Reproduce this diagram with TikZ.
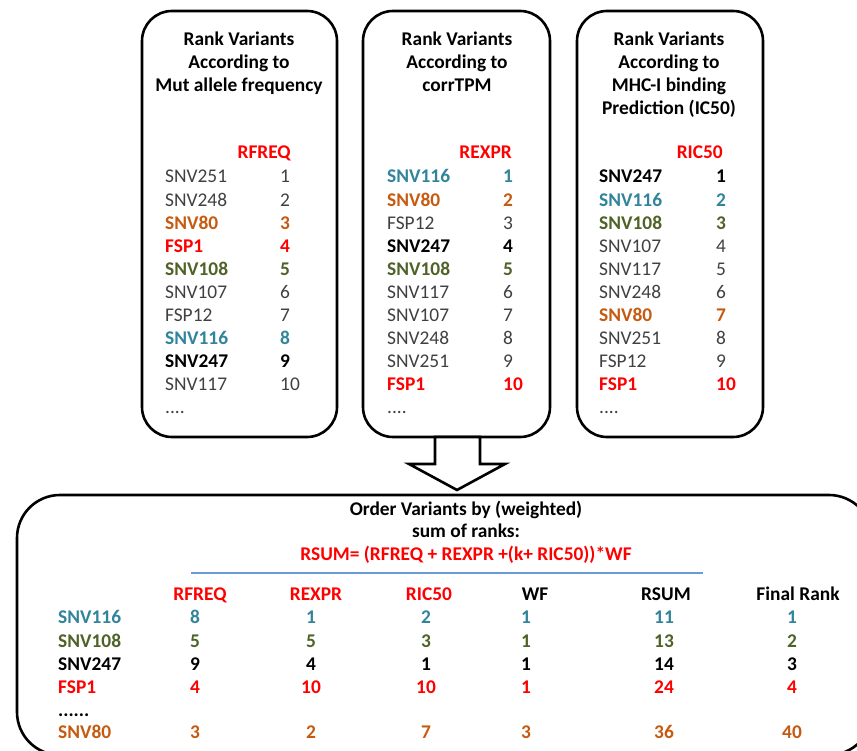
\documentclass[tikz,border=0pt]{standalone}
\usepackage{fontspec}
\setmainfont{Carlito}
\newcommand\myfs{\fontsize{19.4}{23}\selectfont}
\definecolor{cteal}{HTML}{31849B}
\definecolor{cgreen}{HTML}{4F6228}
\definecolor{corange}{HTML}{C55A11}
\definecolor{cred}{HTML}{FF0000}
\definecolor{cgray}{HTML}{404040}
\definecolor{cblue}{HTML}{6A9BD8}
\tikzset{
  panel/.style={draw, line width=2.6pt, rounded corners=30pt},
  bigpanel/.style={draw, line width=2.6pt, rounded corners=43pt},
  blockarrow/.style={draw, fill=white, line width=2.6pt, line join=miter},
  txt/.style={inner sep=0pt, font=\myfs},
  creg/.style={txt, text=cgray},
  cbk/.style={txt, font=\myfs\bfseries, text=black},
  ctl/.style={txt, font=\myfs\bfseries, text=cteal},
  cgr/.style={txt, font=\myfs\bfseries, text=cgreen},
  cor/.style={txt, font=\myfs\bfseries, text=corange},
  crd/.style={txt, font=\myfs\bfseries, text=cred},
  ttl/.style={txt, font=\myfs\bfseries, text=black, anchor=base},
}
\begin{document}
\begin{tikzpicture}[x=1pt,y=-1pt]
\useasboundingbox (0,0) rectangle (857,751);
% panels
\draw[panel] (142,11) rectangle (337,437);
\draw[panel] (363,11) rectangle (550,437);
\draw[panel] (577,11) rectangle (763,437);
\draw[bigpanel] (17,495) rectangle (872,755);
% block arrow
\draw[blockarrow] (435,437) -- (480,437) -- (480,464) -- (505,464) -- (457,490) -- (409,464) -- (435,464) -- cycle;
% titles
\node[ttl] (t1a) at (239,46) {Rank Variants};
\node[ttl] (t1b) at (239,69) {According to};
\node[ttl] (t1c) at (239,92) {Mut allele frequency};
\node[ttl] (t2a) at (457,46) {Rank Variants};
\node[ttl] (t2b) at (457,69) {According to};
\node[ttl] (t2c) at (457,92) {corrTPM};
\node[ttl] (t3a) at (669,46) {Rank Variants};
\node[ttl] (t3b) at (669,69) {According to};
\node[ttl] (t3c) at (669,92) {MHC-I binding};
\node[ttl] (t3d) at (669,115) {Prediction (IC50)};
% headers
\node[crd, anchor=base east] (h1) at (291,159) {RFREQ};
\node[crd, anchor=base east] (h2) at (512,159) {REXPR};
\node[crd, anchor=base east] (h3) at (723,159) {RIC50};
% box 1
\foreach \n/\v/\s [count=\i] in {SNV251/1/creg, SNV248/2/creg, SNV80/3/cor, FSP1/4/crd, SNV108/5/cgr, SNV107/6/creg, FSP12/7/creg, SNV116/8/ctl, SNV247/9/cbk, SNV117/10/creg}{
  \node[\s, anchor=base west] (an\i) at (165,{183+(\i-1)*23.1}) {\n};
  \node[\s, anchor=base west] (av\i) at (280,{183+(\i-1)*23.1}) {\v};
}
\node[creg, anchor=base west] (ad) at (165,413) {....};
% box 2
\foreach \n/\v/\s [count=\i] in {SNV116/1/ctl, SNV80/2/cor, FSP12/3/creg, SNV247/4/cbk, SNV108/5/cgr, SNV117/6/creg, SNV107/7/creg, SNV248/8/creg, SNV251/9/creg, FSP1/10/crd}{
  \node[\s, anchor=base west] (bn\i) at (387,{183+(\i-1)*23.1}) {\n};
  \node[\s, anchor=base west] (bv\i) at (503,{183+(\i-1)*23.1}) {\v};
}
\node[creg, anchor=base west] (bd) at (387,413) {....};
% box 3
\foreach \n/\v/\s [count=\i] in {SNV247/1/cbk, SNV116/2/ctl, SNV108/3/cgr, SNV107/4/creg, SNV117/5/creg, SNV248/6/creg, SNV80/7/cor, SNV251/8/creg, FSP12/9/creg, FSP1/10/crd}{
  \node[\s, anchor=base west] (cn\i) at (599,{183+(\i-1)*23.1}) {\n};
  \node[\s, anchor=base west] (cv\i) at (716,{183+(\i-1)*23.1}) {\v};
}
\node[creg, anchor=base west] (cd) at (599,413) {....};
% bottom title
\node[ttl] (o1) at (466,515) {Order Variants by (weighted)};
\node[ttl] (o2) at (466,537) {sum of ranks:};
\node[ttl, text=cred] (o3) at (466,560) {RSUM= (RFREQ + REXPR +(k+ RIC50))*WF};
\draw[cblue, line width=1.3pt] (191,573) -- (703,573);
% table header
\node[crd, anchor=base] (th1) at (200,600) {RFREQ};
\node[crd, anchor=base] (th2) at (316,600) {REXPR};
\node[crd, anchor=base] (th3) at (429,600) {RIC50};
\node[cbk, anchor=base] (th4) at (535,600) {WF};
\node[cbk, anchor=base] (th5) at (666,600) {RSUM};
\node[cbk, anchor=base] (th6) at (798,600) {Final Rank};
% table rows
\foreach \n/\a/\b/\c/\d/\e/\f/\s/\y [count=\i] in {SNV116/8/1/2/1/11/1/ctl/623, SNV108/5/5/3/1/13/2/cgr/647, SNV247/9/4/1/1/14/3/cbk/670, FSP1/4/10/10/1/24/4/crd/693, SNV80/3/2/7/3/36/40/cor/738}{
  \node[\s, anchor=base west] (rn\i) at (58,\y) {\n};
  \node[\s, anchor=base] (ra\i) at (195,\y) {\a};
  \node[\s, anchor=base] (rb\i) at (311,\y) {\b};
  \node[\s, anchor=base] (rc\i) at (426,\y) {\c};
  \node[\s, anchor=base] (rd\i) at (526,\y) {\d};
  \node[\s, anchor=base] (re\i) at (664,\y) {\e};
  \node[\s, anchor=base] (rf\i) at (792,\y) {\f};
}
\node[cbk, anchor=base west] (rdots) at (58,716) {......};
\end{tikzpicture}
\end{document}
